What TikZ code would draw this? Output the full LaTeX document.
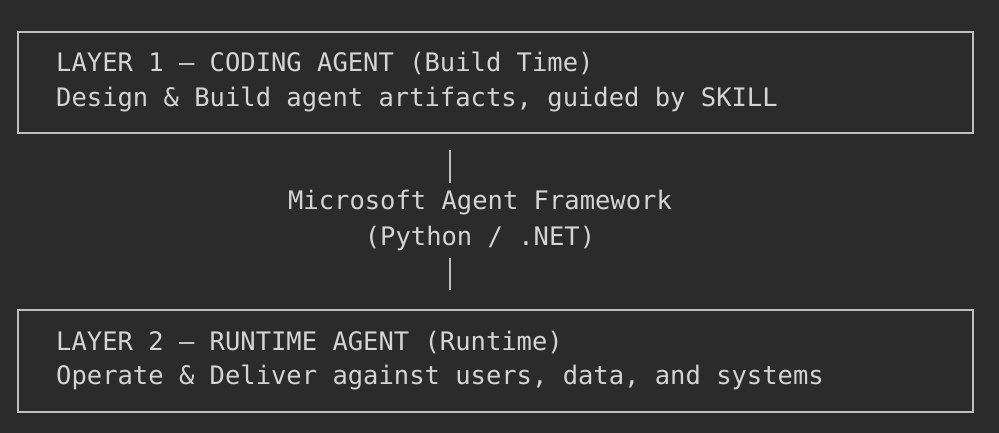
\documentclass[tikz,border=0pt]{standalone}
\usepackage{fontspec}
\setmonofont{DejaVu Sans Mono}
\begin{document}
\begin{tikzpicture}[x=1pt,y=-1pt,
  txt/.style={font=\ttfamily\fontsize{25.5}{28}\selectfont,text=white!83!black,inner sep=0pt},
  frame/.style={draw=white!75!black,line width=1.3pt},
  conn/.style={draw=white!75!black,line width=1.5pt}]
\fill[black!83!white] (0,0) rectangle (999,433);
\useasboundingbox (0,0) rectangle (999,433);
\draw[frame] (18,32) rectangle (973,133);
\draw[frame] (18,310) rectangle (973,412);
\node[txt,anchor=west] (l1a) at (56,63) {LAYER 1 — CODING AGENT (Build Time)};
\node[txt,anchor=west] (l1b) at (56,99) {Design \& Build agent artifacts, guided by SKILL};
\node[txt,anchor=west] (l2a) at (56,342) {LAYER 2 — RUNTIME AGENT (Runtime)};
\node[txt,anchor=west] (l2b) at (56,377) {Operate \& Deliver against users, data, and systems};
\node[txt] (m1) at (480,203) {Microsoft Agent Framework};
\node[txt] (m2) at (480,238) {(Python / .NET)};
\coordinate (a1) at (450,150); \coordinate (a2) at (450,183);
\coordinate (b1) at (450,258); \coordinate (b2) at (450,290);
\draw[conn] (a1) -- (a2);
\draw[conn] (b1) -- (b2);
\end{tikzpicture}
\end{document}
